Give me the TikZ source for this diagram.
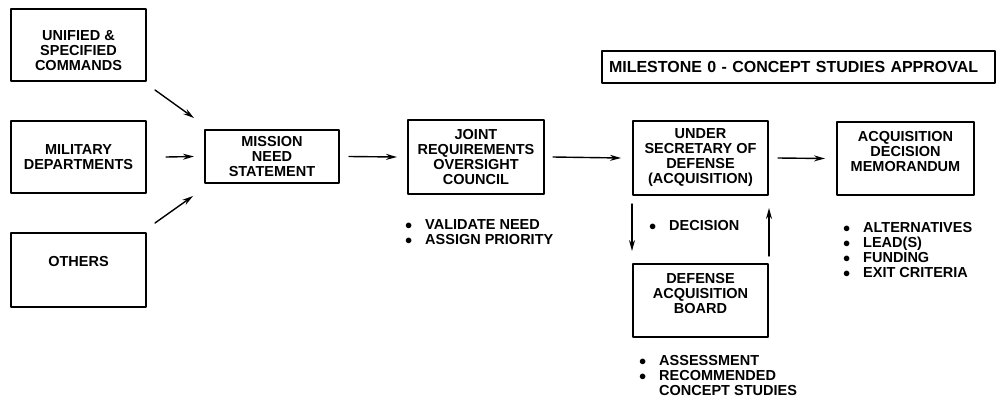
\documentclass[tikz,border=0pt]{standalone}
\usepackage{fontspec}
\setmainfont{Liberation Sans}
\usetikzlibrary{arrows.meta}
\newcommand\itm{\makebox[20pt][l]{$\bullet$}}
\begin{document}
\begin{tikzpicture}[x=1pt, y=-1pt, font=\bfseries\fontsize{14.5}{15}\selectfont, line join=round, line cap=round, >={Stealth[length=11pt, width=6pt]},
	box/.style={draw, line width=2pt, align=center, inner sep=0pt, minimum width=135pt, minimum height=73pt},
	arr/.style={->, line width=1.4pt},
	lst/.style={align=left, anchor=north west, inner sep=0pt}]
	\useasboundingbox (0,0) rectangle (996,397);
	\path
	(78.5,45)node[box, minimum height=72pt] (uni) {\mbox{}\\[7pt]UNIFIED \&\\SPECIFIED\\COMMANDS}
	(78.5,157)node[box, minimum height=72pt] (mil) {MILITARY\\DEPARTMENTS}
	(78.5,270)node[box, minimum height=74pt] (oth) {OTHERS\\[2.5pt]\mbox{}}
	(272,156.5)node[box, minimum width=134pt, minimum height=53pt] (msn) {MISSION\\NEED\\STATEMENT}
	(476,157)node[box, minimum width=136pt, minimum height=74pt] (jroc) {JOINT\\REQUIREMENTS\\OVERSIGHT\\COUNCIL}
	(700.5,158)node[box, minimum height=74pt] (usd) {UNDER\\SECRETARY OF\\DEFENSE\\(ACQUISITION)}
	(905.5,158.5)node[box, minimum width=137pt] (adm) {ACQUISITION\\DECISION\\MEMORANDUM\\\mbox{}}
	(700.5,300.5)node[box] (dab) {DEFENSE\\ACQUISITION\\BOARD\\\mbox{}}
	(798.5,66.5)node[draw, line width=2pt, inner sep=0pt, minimum width=393pt, minimum height=32pt, text width=379pt, align=left, font=\bfseries\fontsize{16}{16}\selectfont] (ms) {MILESTONE 0 - CONCEPT STUDIES APPROVAL}
	;
	\path
	(405,219)node[lst] (jroc-l) {\itm VALIDATE NEED\\\itm ASSIGN PRIORITY}
	(649,220)node[lst] (usd-l) {\itm DECISION}
	(639,355)node[lst] (dab-l) {\itm ASSESSMENT\\\itm RECOMMENDED\\\hspace*{20pt}CONCEPT STUDIES}
	(843,222)node[lst] (adm-l) {\itm ALTERNATIVES\\\itm LEAD(S)\\\itm FUNDING\\\itm EXIT CRITERIA}
	;
	\draw[arr]
	([shift={(8,8)}]uni.south east)--([shift={(-10,-11)}]msn.north west)
	;
	\draw[arr]
	([xshift=19]mil.east)--([xshift=-10]msn.west)
	;
	\draw[arr]
	([shift={(8,-9)}]oth.north east)--([shift={(-11,12)}]msn.south west)
	;
	\foreach \a/\b/\s/\e in {msn/jroc/9/-10, jroc/usd/8/-11, usd/adm/9/-11}
	\draw[arr] ([xshift=\s]\a.east)--([xshift=\e]\b.west);
	\draw[arr]
	([yshift=-8]usd.south west)--([yshift=12]dab.north west)
	;
	\draw[arr]
	([yshift=7]dab.north east)--([yshift=-12]usd.south east)
	;
\end{tikzpicture}
\end{document}
